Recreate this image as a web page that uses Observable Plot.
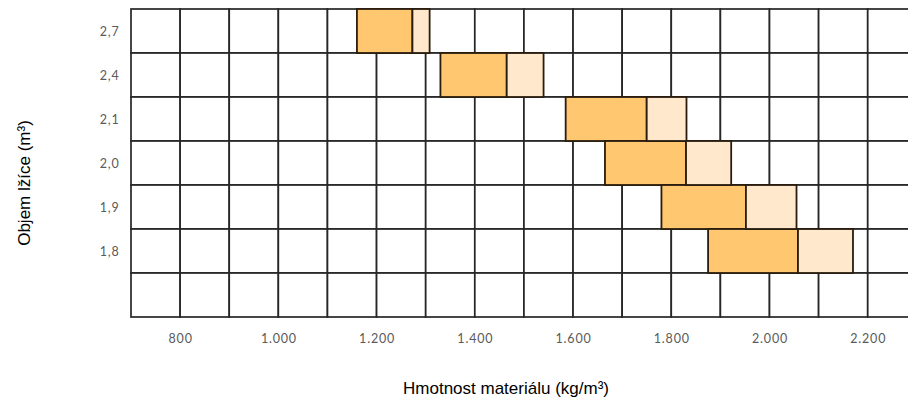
<!DOCTYPE html>
<html>
<head>
<meta charset="utf-8">
<script src="https://cdn.jsdelivr.net/npm/d3@7"></script>
<script src="https://cdn.jsdelivr.net/npm/@observablehq/plot@0.6"></script>
<style>
  html, body { margin: 0; padding: 0; background: #fff; overflow: hidden; }
  #wrap { position: relative; width: 908px; height: 403px; }
  #wrap svg { overflow: hidden; }
  .title { position: absolute; font-family: "Liberation Sans", Arial, sans-serif; font-size: 17px; color: #000; white-space: nowrap; }
  #xtitle { left: 506px; top: 379px; transform: translateX(-50%); }
  #ytitle { left: 25px; top: 183px; transform: translate(-50%, -50%) rotate(-90deg); }
</style>
</head>
<body>
<div id="wrap"></div>
<script>
// Data
const rows = ["2,7", "2,4", "2,1", "2,0", "1,9", "1,8", ""];
const volumes = ["2,7", "2,4", "2,1", "2,0", "1,9", "1,8"];
const darkStart = [1160, 1330, 1585, 1665, 1780, 1875];
const darkEnd   = [1273, 1465, 1750, 1830, 1952, 2058];
const lightEnd  = [1308, 1540, 1831, 1922, 2055, 2170];
const xTicks = [800, 1000, 1200, 1400, 1600, 1800, 2000, 2200];
const gridStarts = [700, 800, 900, 1000, 1100, 1200, 1300, 1400, 1500, 1600, 1700, 1800, 1900, 2000, 2100, 2200];
const xTitle = "Hmotnost materiálu (kg/m³)";
const yTitle = "Objem lžíce (m³)";

const bars = volumes.map((v, i) => ({v, s: darkStart[i], m: darkEnd[i], e: lightEnd[i]}));
const cells = [];
for (const r of rows) for (const g of gridStarts) cells.push({r, x1: g, x2: g + 100});

const fmt = d => d3.format(",")(d).replace(/,/g, ".");

const chart = Plot.plot({
  width: 908,
  height: 403,
  marginLeft: 131,
  marginRight: 0,
  marginTop: 8,
  marginBottom: 85,
  style: {fontFamily: "Lato, 'DejaVu Sans', sans-serif", fontSize: "12.5px", letterSpacing: "0.8px", color: "#5a5a5a", background: "#fff"},
  x: {domain: [700, 2282], ticks: xTicks, tickFormat: fmt, tickSize: 0, tickPadding: 16, label: null},
  y: {domain: rows, padding: 0, tickSize: 0, tickPadding: 12, label: null},
  marks: [
    Plot.rect(cells, {x1: "x1", x2: "x2", y: "r", fill: "#fff", stroke: "#262626", strokeWidth: 1.7}),
    Plot.barX(bars, {x1: "s", x2: "m", y: "v", fill: "#FFC770", stroke: "#2a1c0e", strokeWidth: 1.8}),
    Plot.barX(bars, {x1: "m", x2: "e", y: "v", fill: "#FFE8CB", stroke: "#2a1c0e", strokeWidth: 1.8})
  ]
});

const wrap = document.getElementById("wrap");
wrap.appendChild(chart);
const xt = document.createElement("div");
xt.className = "title"; xt.id = "xtitle"; xt.textContent = xTitle;
const yt = document.createElement("div");
yt.className = "title"; yt.id = "ytitle"; yt.textContent = yTitle;
wrap.appendChild(xt);
wrap.appendChild(yt);
</script>
</body>
</html>
